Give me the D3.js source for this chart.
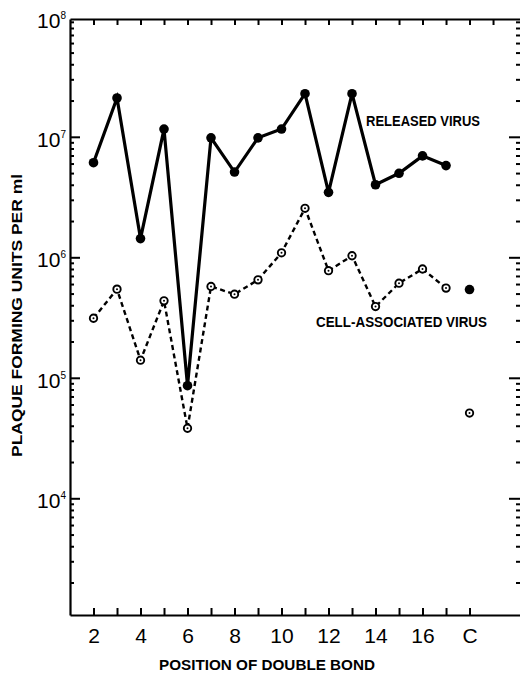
<!DOCTYPE html>
<html>
<head>
<meta charset="utf-8">
<script src="https://cdn.jsdelivr.net/npm/d3@7"></script>
<style>
body { margin: 0; background: #fff; }
text { font-family: 'Liberation Sans', Arial, sans-serif; fill: #000; }
</style>
</head>
<body>
<div id="chart"></div>
<script>
// Data
const positions = [2, 3, 4, 5, 6, 7, 8, 9, 10, 11, 12, 13, 14, 15, 16, 17]
const releasedVirus = [6.1e6, 2.1e7, 1.43e6, 1.16e7, 8.6e4, 9.8e6, 5.1e6, 9.8e6, 1.16e7, 2.28e7, 3.46e6, 2.28e7, 4.0e6, 4.98e6, 6.95e6, 5.77e6]
const cellVirus = [3.12e5, 5.44e5, 1.4e5, 4.35e5, 3.81e4, 5.73e5, 4.94e5, 6.5e5, 1.09e6, 2.55e6, 7.74e5, 1.03e6, 3.9e5, 6.1e5, 8.0e5, 5.55e5]
const controlPos = 18
const controlReleased = 5.4e5
const controlCell = 5.1e4
const xTickLabels = { 2: '2', 4: '4', 6: '6', 8: '8', 10: '10', 12: '12', 14: '14', 16: '16', 18: 'C' }
const decades = [1e4, 1e5, 1e6, 1e7]

const width = 520
const height = 673

let svg = d3.select('#chart')
	.append('svg')
	.attr('width', width)
	.attr('height', height)

// Scales (right frame edge sits just past the picture edge)
let scaleX = d3.scaleLinear()
	.domain([1, 20.19])
	.range([70, 521])
let scaleY = d3.scaleLog()
	.domain([1075, 9.5e7])
	.range([615, 19])

let plotLeft = scaleX.range()[0]
let plotRight = scaleX.range()[1]
let plotTop = scaleY.range()[1]
let plotBottom = scaleY.range()[0]

// Minor log ticks
let minorTicks = []
decades.concat([1e3]).forEach((d) => {
	for (let m = 2; m <= 9; m++) {
		let v = d * m
		if (v > scaleY.domain()[0] && v < scaleY.domain()[1]) minorTicks.push(v)
	}
})

function styleAxis(g) {
	g.select('.domain').attr('stroke', '#000').attr('stroke-width', 2.2)
	g.selectAll('.tick line').attr('stroke', '#000').attr('stroke-width', 2)
}

// Left axis
svg.append('g')
	.attr('transform', `translate(${plotLeft},0)`)
	.call(d3.axisLeft(scaleY).tickValues(minorTicks).tickSize(-4).tickFormat('').tickSizeOuter(0))
	.call(styleAxis)
svg.append('g')
	.attr('transform', `translate(${plotLeft},0)`)
	.call(d3.axisLeft(scaleY).tickValues(decades).tickSize(-10).tickFormat('').tickSizeOuter(0))
	.call(styleAxis)
	.select('.domain').remove()

// Right axis
svg.append('g')
	.attr('transform', `translate(${plotRight},0)`)
	.call(d3.axisRight(scaleY).tickValues(minorTicks).tickSize(-5).tickFormat('').tickSizeOuter(0))
	.call(styleAxis)
svg.append('g')
	.attr('transform', `translate(${plotRight},0)`)
	.call(d3.axisRight(scaleY).tickValues(decades).tickSize(-12).tickFormat('').tickSizeOuter(0))
	.call(styleAxis)
	.select('.domain').remove()

// Top axis
svg.append('g')
	.attr('transform', `translate(0,${plotTop})`)
	.call(d3.axisTop(scaleX).tickValues(d3.range(2, 20)).tickSize(-6).tickFormat('').tickSizeOuter(0))
	.call(styleAxis)

// Bottom axis
svg.append('g')
	.attr('transform', `translate(0,${plotBottom})`)
	.call(d3.axisBottom(scaleX).tickValues(d3.range(2, 19)).tickSize(-7).tickSizeOuter(0)
		.tickPadding(13)
		.tickFormat((d) => xTickLabels[d] || ''))
	.call(styleAxis)
	.call((g) => g.selectAll('.tick text')
		.style('font-size', '21px')
		.style('font-family', "'Liberation Sans', Arial, sans-serif")
		.attr('fill', '#000'))

// Y decade labels (10 with superscript)
function addDecadeLabel(y, exp) {
	let t = svg.append('text')
		.attr('x', plotLeft - 4)
		.attr('y', y + 10)
		.attr('text-anchor', 'end')
		.style('font-size', '21px')
	t.append('tspan').text('10')
	t.append('tspan')
		.attr('dy', -9)
		.style('font-size', '10px')
		.text(exp)
}
decades.forEach((d) => {
	addDecadeLabel(scaleY(d), Math.round(Math.log10(d)))
})
addDecadeLabel(plotTop - 1, 8)

// Lines
let lineGen = d3.line()
	.x((d, i) => scaleX(positions[i]))
	.y((d) => scaleY(d))

svg.append('path')
	.datum(cellVirus)
	.attr('d', lineGen)
	.attr('fill', 'none')
	.attr('stroke', '#000')
	.attr('stroke-width', 2.4)
	.attr('stroke-dasharray', '5,3.5')

svg.append('path')
	.datum(releasedVirus)
	.attr('d', lineGen)
	.attr('fill', 'none')
	.attr('stroke', '#000')
	.attr('stroke-width', 3.2)
	.attr('stroke-linejoin', 'miter')

// Released virus points (filled)
svg.selectAll('circle.released')
	.data(releasedVirus.map((v, i) => [positions[i], v]).concat([[controlPos, controlReleased]]))
	.enter()
	.append('circle')
	.attr('class', 'released')
	.attr('cx', (d) => scaleX(d[0]))
	.attr('cy', (d) => scaleY(d[1]))
	.attr('r', 4.8)
	.attr('fill', '#000')

// Cell-associated points (open circle with dot)
let cellPts = cellVirus.map((v, i) => [positions[i], v]).concat([[controlPos, controlCell]])
svg.selectAll('circle.cell')
	.data(cellPts)
	.enter()
	.append('circle')
	.attr('class', 'cell')
	.attr('cx', (d) => scaleX(d[0]))
	.attr('cy', (d) => scaleY(d[1]))
	.attr('r', 3.7)
	.attr('fill', '#fff')
	.attr('stroke', '#000')
	.attr('stroke-width', 1.9)
svg.selectAll('circle.celldot')
	.data(cellPts)
	.enter()
	.append('circle')
	.attr('class', 'celldot')
	.attr('cx', (d) => scaleX(d[0]))
	.attr('cy', (d) => scaleY(d[1]))
	.attr('r', 1)
	.attr('fill', '#000')

// Series labels
svg.append('text')
	.attr('x', 366)
	.attr('y', 126)
	.attr('textLength', 114)
	.attr('lengthAdjust', 'spacingAndGlyphs')
	.style('font-size', '14.5px')
	.style('font-weight', 'bold')
	.text('RELEASED VIRUS')

svg.append('text')
	.attr('x', 316)
	.attr('y', 327)
	.attr('textLength', 171)
	.attr('lengthAdjust', 'spacingAndGlyphs')
	.style('font-size', '14.5px')
	.style('font-weight', 'bold')
	.text('CELL-ASSOCIATED VIRUS')

// Axis titles
svg.append('text')
	.attr('x', 159)
	.attr('y', 670)
	.attr('textLength', 216)
	.attr('lengthAdjust', 'spacingAndGlyphs')
	.style('font-size', '14.5px')
	.style('font-weight', 'bold')
	.text('POSITION OF DOUBLE BOND')

svg.append('text')
	.attr('transform', 'translate(22,457) rotate(-90)')
	.attr('textLength', 283)
	.attr('lengthAdjust', 'spacingAndGlyphs')
	.style('font-size', '14.5px')
	.style('font-weight', 'bold')
	.text('PLAQUE FORMING UNITS PER ml')
</script>
</body>
</html>
